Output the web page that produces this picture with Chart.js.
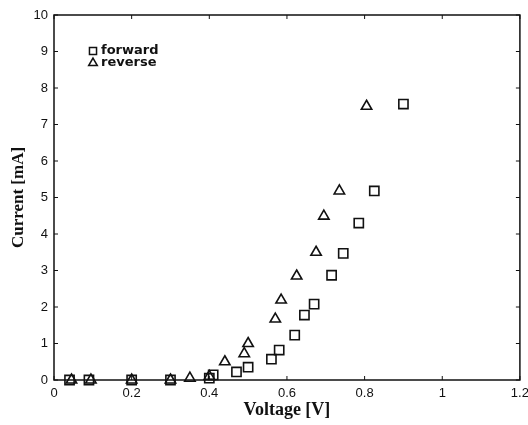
<!DOCTYPE html>
<html>
<head>
<meta charset="utf-8">
<script src="https://cdn.jsdelivr.net/npm/chart.js@4.4.1/dist/chart.umd.min.js"></script>
<style>
  html, body { margin: 0; padding: 0; background: #fff; }
  #wrap { width: 528px; height: 425px; }
</style>
</head>
<body>
<div id="wrap"><canvas id="iv" width="528" height="425"></canvas></div>
<script>
// forward / reverse sweeps, voltage [V] and current [mA]
const forwardV = [0.04, 0.09, 0.20, 0.30, 0.40, 0.41, 0.47, 0.50, 0.56, 0.58, 0.62, 0.645, 0.67, 0.715, 0.745, 0.785, 0.825, 0.90];
const forwardI = [0.00, 0.00, 0.00, 0.00, 0.05, 0.14, 0.22, 0.35, 0.57, 0.82, 1.23, 1.78, 2.08, 2.87, 3.47, 4.30, 5.18, 7.56];
const reverseV = [0.045, 0.095, 0.20, 0.30, 0.35, 0.40, 0.44, 0.49, 0.50, 0.57, 0.585, 0.625, 0.675, 0.695, 0.735, 0.805];
const reverseI = [0.00, 0.00, 0.00, 0.00, 0.05, 0.10, 0.50, 0.72, 1.00, 1.67, 2.19, 2.85, 3.50, 4.49, 5.18, 7.50];

const xTicks = [0, 0.2, 0.4, 0.6, 0.8, 1, 1.2];
const yTicks = [0, 1, 2, 3, 4, 5, 6, 7, 8, 9, 10];

const toPoints = (xs, ys) => xs.map((x, i) => ({ x: x, y: ys[i] }));
const ink = '#111';

// box + inward ticks on all four sides, matlab style
const boxPlugin = {
  id: 'box',
  beforeDatasetsDraw(chart) {
    const { ctx, chartArea: a, scales } = chart;
    ctx.save();
    ctx.strokeStyle = ink;
    ctx.lineWidth = 1.5;
    ctx.strokeRect(a.left, a.top, a.right - a.left, a.bottom - a.top);
    ctx.lineWidth = 1;
    ctx.beginPath();
    xTicks.forEach(v => {
      const px = scales.x.getPixelForValue(v);
      ctx.moveTo(px, a.bottom); ctx.lineTo(px, a.bottom - 4);
      ctx.moveTo(px, a.top); ctx.lineTo(px, a.top + 4);
    });
    yTicks.forEach(v => {
      const py = scales.y.getPixelForValue(v);
      ctx.moveTo(a.left, py); ctx.lineTo(a.left + 4, py);
      ctx.moveTo(a.right, py); ctx.lineTo(a.right - 4, py);
    });
    ctx.stroke();
    ctx.restore();
  }
};

// legend drawn inside the axes, top left
const insideLegend = {
  id: 'insideLegend',
  afterDraw(chart) {
    const { ctx, chartArea: a } = chart;
    ctx.save();
    ctx.font = 'bold 13px "DejaVu Sans", sans-serif';
    ctx.textBaseline = 'middle';
    chart.data.datasets.forEach((ds, i) => {
      const x = a.left + 39, y = a.top + 36 + i * 12;
      ctx.strokeStyle = ink;
      ctx.fillStyle = 'rgba(255,255,255,0)';
      ctx.lineWidth = 1.5;
      Chart.helpers.drawPoint(ctx, { pointStyle: ds.pointStyle, radius: 5, borderWidth: 1.5 }, x, y);
      ctx.fillStyle = ink;
      ctx.fillText(ds.label, x + 8, y);
    });
    ctx.restore();
  }
};

new Chart(document.getElementById('iv'), {
  type: 'scatter',
  data: {
    datasets: [
      {
        label: 'forward',
        data: toPoints(forwardV, forwardI),
        pointStyle: 'rect',
        pointRadius: 6.5,
        borderColor: ink,
        backgroundColor: 'rgba(255,255,255,0)',
        borderWidth: 1.6,
        clip: false
      },
      {
        label: 'reverse',
        data: toPoints(reverseV, reverseI),
        pointStyle: 'triangle',
        pointRadius: 6,
        borderColor: ink,
        backgroundColor: 'rgba(255,255,255,0)',
        borderWidth: 1.6,
        clip: false
      }
    ]
  },
  options: {
    responsive: false,
    animation: false,
    layout: { padding: { left: 0, right: 7, top: 15, bottom: 0 } },
    plugins: {
      legend: { display: false },
      tooltip: { enabled: false }
    },
    scales: {
      x: {
        type: 'linear',
        min: 0,
        max: 1.2,
        afterBuildTicks: s => { s.ticks = xTicks.map(v => ({ value: v })); },
        afterFit: s => { s.height = 45; s.paddingLeft = 0; s.paddingRight = 0; },
        grid: { display: false, drawTicks: false },
        border: { display: false },
        ticks: {
          padding: 6,
          color: ink,
          font: { family: '"Liberation Sans", Arial, sans-serif', size: 13 },
          callback: v => String(+v.toFixed(1))
        },
        title: {
          display: true,
          text: 'Voltage [V]',
          color: ink,
          font: { family: '"Liberation Serif", "Times New Roman", serif', size: 18, weight: 'bold' },
          padding: { top: 0, bottom: 4 }
        }
      },
      y: {
        type: 'linear',
        min: 0,
        max: 10,
        afterBuildTicks: s => { s.ticks = yTicks.map(v => ({ value: v })); },
        afterFit: s => { s.width = 54; s.paddingTop = 0; s.paddingBottom = 0; },
        grid: { display: false, drawTicks: false },
        border: { display: false },
        ticks: {
          padding: 6,
          color: ink,
          font: { family: '"Liberation Sans", Arial, sans-serif', size: 13 }
        },
        title: {
          display: true,
          text: 'Current [mA]',
          color: ink,
          font: { family: '"Liberation Serif", "Times New Roman", serif', size: 17, weight: 'bold' },
          padding: { top: 8, bottom: 0 }
        }
      }
    }
  },
  plugins: [boxPlugin, insideLegend]
});
</script>
</body>
</html>
